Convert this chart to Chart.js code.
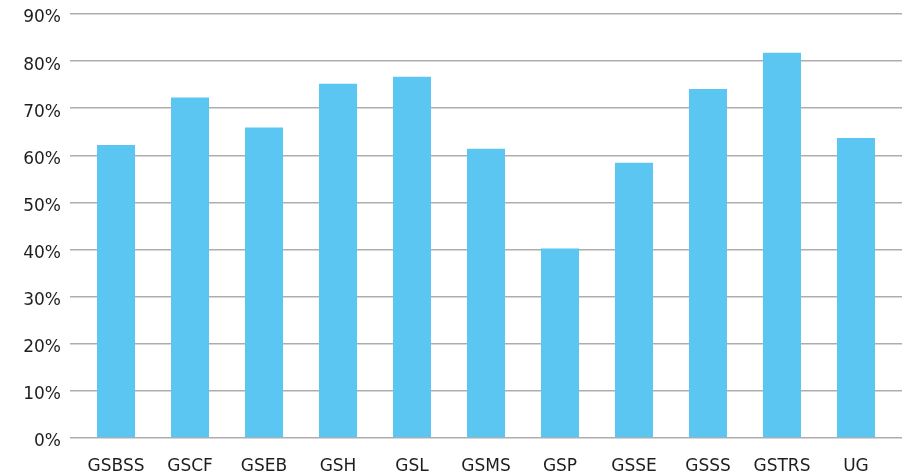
<!DOCTYPE html>
<html>
<head>
<meta charset="utf-8">
<script src="https://cdn.jsdelivr.net/npm/chart.js@4/dist/chart.umd.min.js"></script>
<style>
  html, body { margin: 0; padding: 0; background: #fff; }
  #chart { display: block; }
</style>
</head>
<body>
<canvas id="chart" width="912" height="474"></canvas>
<script>
const categories = ['GSBSS', 'GSCF', 'GSEB', 'GSH', 'GSL', 'GSMS', 'GSP', 'GSSE', 'GSSS', 'GSTRS', 'UG']
const shares = [62.2, 72.3, 65.9, 75.2, 76.7, 61.4, 40.2, 58.4, 74.1, 81.8, 63.7]
const yTicks = [0, 10, 20, 30, 40, 50, 60, 70, 80, 90]

const font = { family: 'DejaVu Sans', size: 17 }

// linear x axis so the gridlines can run a little past the outer bars
const points = shares.map((v, i) => ({ x: i, y: v }))

new Chart(document.getElementById('chart'), {
  type: 'bar',
  data: {
    datasets: [
      {
        data: points,
        backgroundColor: '#5bc6f2',
        borderWidth: 0,
        barPercentage: 0.514,
        categoryPercentage: 1
      }
    ]
  },
  options: {
    responsive: false,
    animation: false,
    devicePixelRatio: 1,
    layout: {
      padding: { top: 14, right: 10, left: 0, bottom: 0 }
    },
    scales: {
      x: {
        type: 'linear',
        offset: false,
        min: -0.622,
        max: categories.length - 1 + 0.622,
        grid: { display: false, drawTicks: false },
        border: { display: false },
        afterBuildTicks: scale => {
          scale.ticks = categories.map((_, i) => ({ value: i }))
        },
        afterFit: scale => {
          scale.height = 36
        },
        ticks: {
          color: '#1e1e1e',
          font: font,
          padding: 18,
          maxRotation: 0,
          autoSkip: false,
          callback: value => categories[value]
        }
      },
      y: {
        min: yTicks[0],
        max: yTicks[yTicks.length - 1],
        afterBuildTicks: scale => {
          scale.ticks = yTicks.map(v => ({ value: v }))
        },
        afterFit: scale => {
          scale.width = 70
          // let the top label overhang instead of pushing the plot down
          scale.paddingTop = 0
          scale.paddingBottom = 0
        },
        grid: {
          color: '#adadad',
          lineWidth: 1.5,
          drawTicks: false
        },
        border: { display: false },
        ticks: {
          color: '#1e1e1e',
          font: font,
          padding: 9,
          labelOffset: 4,
          callback: value => value + '%'
        }
      }
    },
    plugins: {
      legend: { display: false },
      tooltip: { enabled: false }
    }
  }
})
</script>
</body>
</html>
